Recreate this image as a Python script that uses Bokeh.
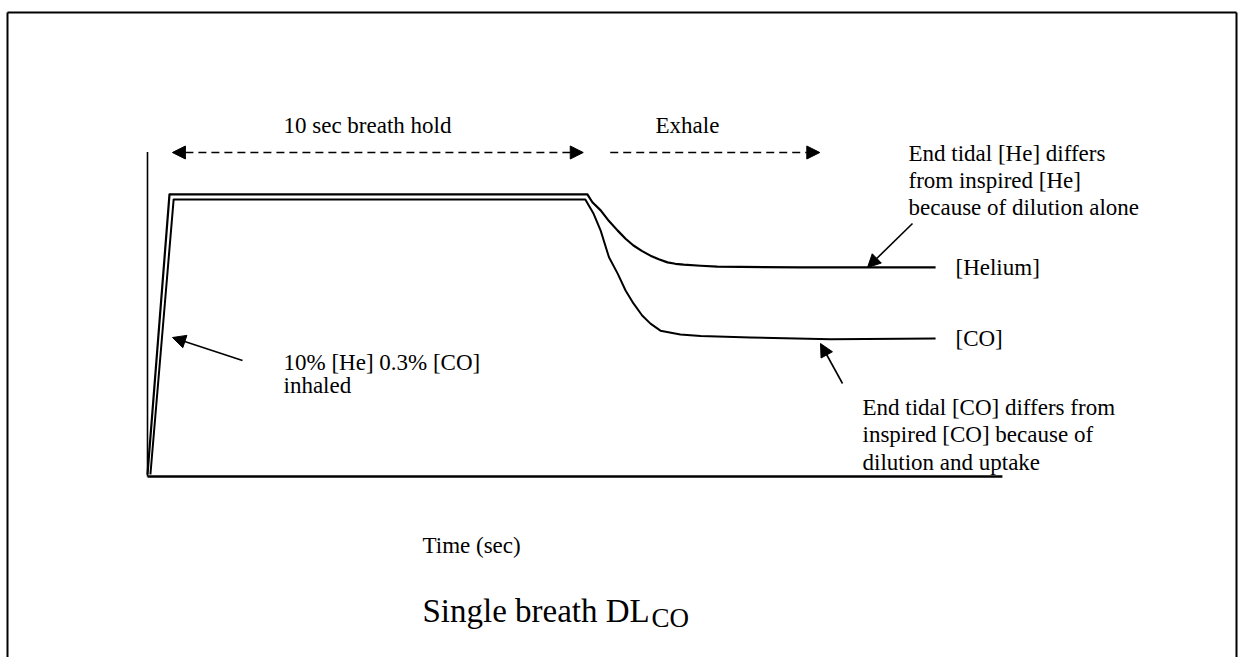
from bokeh.plotting import figure
from bokeh.models import Arrow, NormalHead, Range1d
from bokeh.core.properties import value
from bokeh.embed import file_html
from bokeh.resources import INLINE

# ---- data ----
# time in seconds, concentration in % of inspired
he_time = [0.00, 0.53, 10.60, 10.72, 10.92, 11.12, 11.33, 11.52, 11.71, 11.92, 12.12,
           12.32, 12.53, 12.72, 12.92, 13.33, 13.73, 15.73, 18.99]
he_conc = [0.7, 100.4, 100.4, 97.6, 94.7, 90.9, 87.5, 84.6, 82.2, 80.2, 78.6,
           77.3, 76.2, 75.7, 75.4, 75.0, 74.7, 74.4, 74.4]
co_time = [0.07, 0.63, 10.55, 10.75, 10.92, 11.12, 11.33, 11.52, 11.71, 11.92, 12.12,
           12.36, 12.84, 13.33, 14.53, 16.46, 18.99]
co_conc = [0.7, 98.6, 98.6, 93.5, 87.5, 78.0, 72.2, 66.2, 61.6, 57.3, 54.4,
           51.9, 50.5, 50.0, 49.5, 48.8, 49.1]
hold_span = [0.6, 10.5]      # "10 sec breath hold"
exhale_span = [11.15, 16.2]  # "Exhale"
axis_time_end = 20.6
axis_conc_top = 115.5

W, H = 1241, 657
PX_S = 41.5
PX_U = 2.81
X0, Y0 = 147, 476  # pixel position of the origin


def tx(px):
    return (px - X0) / PX_S


def cy(py):
    return (Y0 - py) / PX_U


p = figure(width=W, height=H, output_backend="svg", toolbar_location=None,
           x_range=Range1d(tx(0), tx(W)), y_range=Range1d(cy(H), cy(0)),
           x_axis_location=None, y_axis_location=None, min_border=0)
p.grid.visible = False
p.outline_line_color = None
p.background_fill_color = "white"
p.border_fill_color = "white"

# page frame (left, top, right)
p.line([tx(7), tx(7)], [cy(12), cy(H + 5)], line_color="black", line_width=2)
p.line([tx(7), tx(1236)], [cy(12), cy(12)], line_color="black", line_width=2)
p.line([tx(1236), tx(1236)], [cy(12), cy(H + 5)], line_color="black", line_width=2)

# axes
p.line([0, 0], [0, axis_conc_top], line_color="black", line_width=1.6)
p.line([0, axis_time_end], [0, 0], line_color="black", line_width=2.6)

# traces
p.line(he_time, he_conc, line_color="black", line_width=2.2, line_join="round")
p.line(co_time, co_conc, line_color="black", line_width=2.0, line_join="round")

# dashed arrows
arrow_y = cy(152)
for span, both in ((hold_span, True), (exhale_span, False)):
    p.add_layout(Arrow(x_start=span[0], y_start=arrow_y, x_end=span[1], y_end=arrow_y,
                       line_dash="8 5", line_width=1.5, line_color="black",
                       start=NormalHead(size=13, fill_color="black", line_color="black") if both else None,
                       end=NormalHead(size=13, fill_color="black", line_color="black")))

# pointer arrows
for (x1, y1, x2, y2) in ((242, 360, 172, 337), (912, 223, 867, 267), (842, 383, 820, 343)):
    p.add_layout(Arrow(x_start=tx(x1), y_start=cy(y1), x_end=tx(x2), y_end=cy(y2),
                       line_width=1.6, line_color="black",
                       end=NormalHead(size=13, fill_color="black", line_color="black")))

FONT = value("Liberation Serif")


def label(x, y, s, size="23px"):
    p.text(x=[tx(x)], y=[cy(y)], text=[s], text_font=FONT, text_font_size=size,
           text_align="left", text_baseline="middle", text_color="black")


label(283, 125, "10 sec breath hold")
label(655, 125, "Exhale")
label(908, 153, "End tidal [He] differs")
label(908, 180, "from inspired [He]")
label(908, 207, "because of dilution alone")
label(955, 267, "[Helium]")
label(955, 338, "[CO]")
label(862, 407, "End tidal [CO] differs from")
label(862, 434, "inspired [CO] because of")
label(862, 462, "dilution and uptake")
label(283, 362, "10% [He] 0.3% [CO]")
label(283, 385, "inhaled")
label(422, 545, "Time (sec)")
label(422, 610, "Single breath DL", size="33px")
label(651, 617, "CO", size="27px")

open("out.html", "w").write(file_html(p, INLINE))
